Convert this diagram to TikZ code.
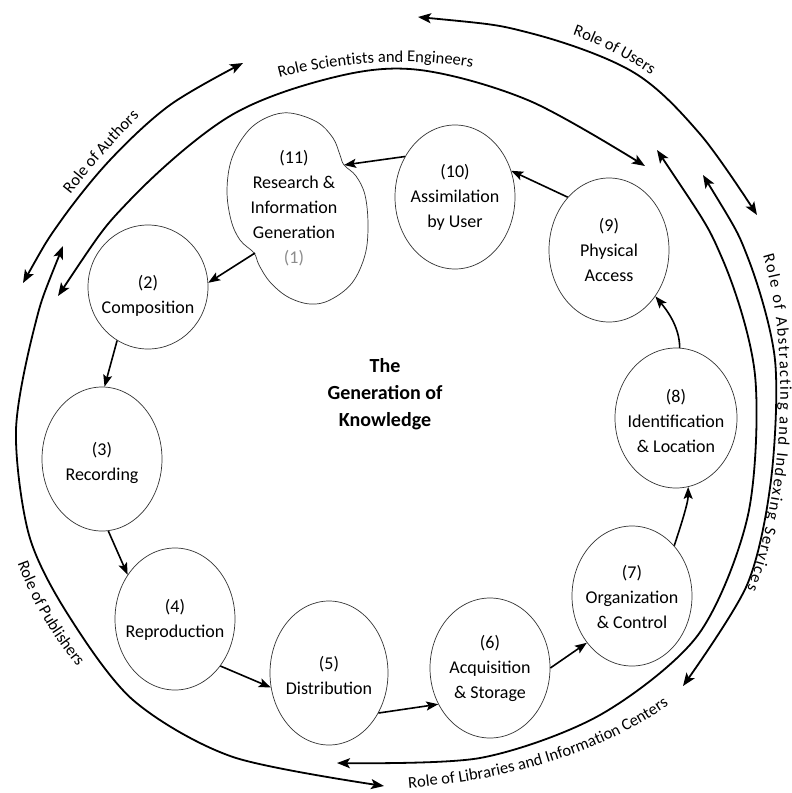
\documentclass[tikz,border=0pt]{standalone}
\usepackage{fontspec}
\setmainfont{Carlito}
\usetikzlibrary{arrows.meta,shapes.geometric,decorations.text}

\newcommand\stagefont{\fontsize{18}{25}\selectfont}
\newcommand\rolefont{\fontsize{16.5}{18}\selectfont}
\newcommand\titlefont{\fontsize{20}{27}\selectfont\bfseries}

\begin{document}
\begin{tikzpicture}[x=1pt,y=-1pt,
  stage/.style={ellipse, draw=black!80, line width=0.7pt, inner sep=0pt, fill=white},
  stagetext/.style={align=center, font=\stagefont, inner sep=0pt},
  flow/.style={line width=1.6pt, -{Stealth[length=12pt,width=9pt,inset=2.5pt]}},
  role/.style={line width=1.8pt,
    {Stealth[length=13pt,width=10pt,inset=3pt]}-{Stealth[length=13pt,width=10pt,inset=3pt]}},
  rolelabel/.style={decorate, decoration={text along path, text align=center,
    text={|\rolefont|#1}}},
]
\useasboundingbox[fill=white] (0,0) rectangle (792,793);

% ---- outer role arcs -------------------------------------------------
% Role of Authors
\draw[role] plot[smooth, tension=0.55] coordinates
  {(23,283) (60,222) (110,160) (170,105) (243,63)};
% Role of Scientists and Engineers
\draw[role] plot[smooth, tension=0.55] coordinates
  {(58,296) (130,200) (230,116) (335,77) (420,70) (530,101) (645,166)};
% Role of Users
\draw[role] plot[smooth, tension=0.55] coordinates
  {(418,17) (530,33) (633,72) (700,134) (757,215)};
% Role of Libraries and Information Centers
\draw[role] plot[smooth, tension=0.5] coordinates
  {(657,150) (722,258) (755,375) (748,515) (698,635) (600,715) (480,758) (337,763)};
% Role of Abstracting and Indexing Services
\draw[role] plot[smooth, tension=0.5] coordinates
  {(703,175) (748,258) (775,360) (771,480) (747,585) (683,686)};
% Role of Publishers
\draw[role] plot[smooth, tension=0.5] coordinates
  {(63,246) (35,325) (16,430) (29,535) (67,613) (133,700) (233,757) (384,786)};

% ---- role labels set along the arcs ----------------------------------
\path[rolelabel={Role of Authors}] (55,214) .. controls (82,180) and (118,133) .. (158,100);
\path[rolelabel={Role Scientists and Engineers}] (262,83) .. controls (330,61) and (420,55) .. (490,71);
\path[rolelabel={Role of Users}] (545,27) .. controls (585,36) and (630,58) .. (675,91);
\path[decorate, decoration={text along path,
    text align={left indent=16pt, right indent=12pt, fit to path},
    text={|\rolefont|Role of Abstracting and Indexing Services}}]
  (758,240) .. controls (788,320) and (792,480) .. (743,600);
\path[rolelabel={Role of Libraries and Information Centers}] (395,789) .. controls (500,782) and (600,757) .. (680,697);
\path[rolelabel={Role of Publishers}] (5,520) .. controls (20,590) and (57,650) .. (108,700);

% ---- stage (11): two merged lobes ------------------------------------
\draw[black!80, line width=0.7pt, fill=white] plot[smooth cycle, tension=0.6] coordinates
  {(290,113) (317,122) (333,138) (340,155) (344,165) (356,176) (365,195)
   (368,225) (365,255) (352,283) (330,300) (310,304) (288,297) (270,282)
   (259,265) (254,253) (240,240) (231,220) (227,190) (232,158) (248,131) (268,117)};
\coordinate (n11e) at (344,165);
\coordinate (n11w) at (255,253);
\node[stagetext] (t11) at (294,208)
  {(11)\\Research \&\\Information\\Generation\\\textcolor{black!45}{(1)}};

% ---- stages (2)--(10) ------------------------------------------------
\node[stage, minimum width=120pt, minimum height=124pt] (n2)  at (148,287) {};
\node[stage, minimum width=120pt, minimum height=144pt] (n3)  at (102,459) {};
\node[stage, minimum width=120pt, minimum height=142pt] (n4)  at (175,619) {};
\node[stage, minimum width=118pt, minimum height=144pt] (n5)  at (329,673) {};
\node[stage, minimum width=120pt, minimum height=140pt] (n6)  at (490,668) {};
\node[stage, minimum width=120pt, minimum height=140pt] (n7)  at (632,596) {};
\node[stage, minimum width=122pt, minimum height=140pt] (n8)  at (676,418) {};
\node[stage, minimum width=120pt, minimum height=144pt] (n9)  at (609,250) {};
\node[stage, minimum width=120pt, minimum height=144pt] (n10) at (455,197) {};

\node[stagetext] (t2)  at (148,296) {(2)\\Composition};
\node[stagetext] (t3)  at (102,463) {(3)\\Recording};
\node[stagetext] (t4)  at (175,620) {(4)\\Reproduction};
\node[stagetext] (t5)  at (329,675) {(5)\\Distribution};
\node[stagetext] (t6)  at (490,668) {(6)\\Acquisition\\\& Storage};
\node[stagetext] (t7)  at (632,597) {(7)\\Organization\\\& Control};
\node[stagetext] (t8)  at (676,421) {(8)\\Identification\\\& Location};
\node[stagetext] (t9)  at (609,250) {(9)\\Physical\\Access};
\node[stagetext] (t10) at (455,197) {(10)\\Assimilation\\by User};

\node[align=center, font=\titlefont] (title) at (385,394) {The\\Generation of\\Knowledge};

% ---- flow between stages ---------------------------------------------
\draw[flow] (n9.128) -- (n10.25);
\draw[flow] (n10.141) -- (n11e);
\draw[flow] (n11w) -- (n2.4);
\draw[flow] (n2.240) -- (n3.88);
\draw[flow] (n3.275) -- (n4.137);
\draw[flow] (n4.314) -- (n5.194);
\draw[flow] (n5.321) -- (n6.215);
\draw[flow] (n6.0) -- (n7.226);
\draw[flow] (n7.50) .. controls +(6,-18) and +(0,16) .. (n8.280);
\draw[flow] (n8.87) .. controls +(0,-22) and +(10,12) .. (n9.315);
\end{tikzpicture}
\end{document}
